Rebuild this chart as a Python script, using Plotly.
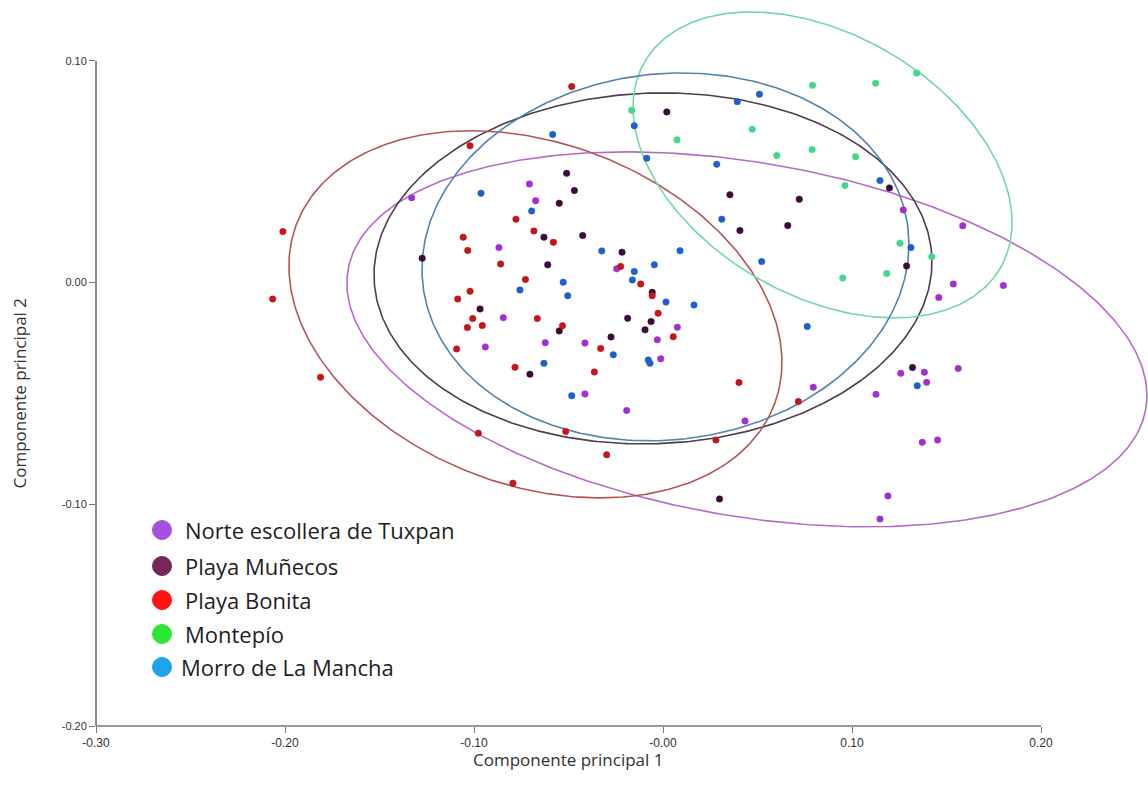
import numpy as np
import plotly.graph_objects as go

# ---------------- data ----------------
groups = ["Norte escollera de Tuxpan", "Playa Muñecos", "Playa Bonita", "Montepío", "Morro de La Mancha"]

norte_x = [-0.1330, -0.0707, -0.0674, -0.0868, -0.0845, -0.0940, -0.0623, -0.0245, 0.0076, -0.0030,
           -0.0012, -0.0413, -0.0192, -0.0413, 0.0795, 0.0434, 0.1271, 0.1586, 0.1536, 0.1801,
           0.1459, 0.1258, 0.1383, 0.1395, 0.1562, 0.1127, 0.1372, 0.1453, 0.1190, 0.1148]
norte_y = [0.0383, 0.0445, 0.0369, 0.0158, -0.0158, -0.0290, -0.0271, 0.0062, -0.0201, -0.0258,
           -0.0344, -0.0273, -0.0577, -0.0502, -0.0472, -0.0624, 0.0328, 0.0256, -0.0006, -0.0013,
           -0.0067, -0.0409, -0.0404, -0.0450, -0.0387, -0.0504, -0.0720, -0.0710, -0.0962, -0.1066]

munecos_x = [-0.1274, -0.0630, -0.0610, -0.0968, -0.0510, -0.0469, -0.0549, -0.0425, -0.0217, -0.0057,
             -0.0187, -0.0063, -0.0095, -0.0275, -0.0549, -0.0704, 0.0299, 0.0020, 0.0354, 0.0407,
             0.0721, 0.0660, 0.1198, 0.1289, 0.1320]
munecos_y = [0.0110, 0.0205, 0.0080, -0.0119, 0.0493, 0.0415, 0.0358, 0.0212, 0.0137, -0.0044,
             -0.0161, -0.0176, -0.0213, -0.0245, -0.0218, -0.0413, -0.0976, 0.0770, 0.0396, 0.0235,
             0.0376, 0.0257, 0.0427, 0.0075, -0.0383]

bonita_x = [-0.1021, -0.0483, -0.2011, -0.2065, -0.1812, -0.0778, -0.0683, -0.1057, -0.1033, -0.0859,
            -0.0728, -0.1021, -0.1086, -0.1007, -0.1035, -0.0956, -0.0665, -0.1092, -0.0580, -0.0224,
            -0.0118, -0.0057, -0.0026, 0.0054, -0.0330, -0.0532, -0.0783, -0.0363, -0.0977, -0.0515,
            -0.0298, -0.0794, 0.0402, 0.0716, 0.0280]
bonita_y = [0.0617, 0.0884, 0.0230, -0.0074, -0.0427, 0.0286, 0.0233, 0.0205, 0.0145, 0.0084,
            0.0014, -0.0039, -0.0074, -0.0162, -0.0203, -0.0194, -0.0162, -0.0299, 0.0182, 0.0073,
            -0.0006, -0.0059, -0.0138, -0.0244, -0.0297, -0.0195, -0.0382, -0.0403, -0.0679, -0.0672,
            -0.0777, -0.0905, -0.0451, -0.0536, -0.0710]

montepio_x = [-0.0166, 0.0074, 0.0472, 0.0791, 0.1125, 0.1342, 0.0602, 0.0789, 0.1019, 0.0963,
              0.1254, 0.1422, 0.1184, 0.0951]
montepio_y = [0.0777, 0.0644, 0.0692, 0.0890, 0.0899, 0.0945, 0.0573, 0.0600, 0.0568, 0.0438,
              0.0178, 0.0117, 0.0041, 0.0021]

morro_x = [-0.0963, -0.0695, -0.0757, -0.0584, -0.0086, 0.0284, -0.0152, 0.0393, 0.0510, 0.0311,
           -0.0324, -0.0152, -0.0162, -0.0046, 0.0090, 0.0016, 0.0164, -0.0528, -0.0504, -0.0263,
           -0.0078, -0.0069, -0.0630, -0.0483, 0.0522, 0.1148, 0.1312, 0.0763, 0.1345]
morro_y = [0.0403, 0.0323, -0.0033, 0.0668, 0.0561, 0.0534, 0.0707, 0.0816, 0.0850, 0.0286,
           0.0143, 0.0050, 0.0012, 0.0080, 0.0144, -0.0088, -0.0101, 0.0002, -0.0059, -0.0326,
           -0.0349, -0.0364, -0.0364, -0.0510, 0.0095, 0.0460, 0.0158, -0.0198, -0.0465]

# 95% ellipses: centre (data units), semi-axes (screen px) and screen tilt (deg, clockwise)
ell_cx = [0.0444, -0.0053, -0.0675, 0.0844, 0.0013]
ell_cy = [-0.0256, 0.0064, -0.0143, 0.0531, 0.0116]
ell_a = [404.9, 279.1, 255.4, 205.6, 244.2]
ell_b = [176.7, 175.3, 171.0, 130.6, 183.0]
ell_tilt = [9.9, -2.2, 20.6, 30.1, -6.7]

x_ticks = [-0.30, -0.20, -0.10, 0.00, 0.10, 0.20]
x_tick_labels = ["-0.30", "-0.20", "-0.10", "-0.00", "0.10", "0.20"]
y_ticks = [-0.20, -0.10, 0.00, 0.10]
y_tick_labels = ["-0.20", "-0.10", "0.00", "0.10"]

# ---------------- styles ----------------
point_colors = ["#a030d2", "#3d0c38", "#c3171c", "#3fd88c", "#1f60cc"]
ellipse_colors = ["#b86ac8", "#4d3d4d", "#b55656", "#72d9a5", "#5185b0"]
legend_colors = ["#a650e2", "#74285a", "#ff1414", "#2ee632", "#1ea4ea"]

W, H = 1148, 799
ML, MR, MT, MB = 96, 0, 8, 73
PW, PH = W - ML - MR, H - MT - MB
X_MIN, Y_MIN = -0.30, -0.20
SX, SY = 1890.0, 2217.0          # px per data unit
X_MAX = X_MIN + PW / SX
Y_MAX = Y_MIN + PH / SY

xs = [norte_x, munecos_x, bonita_x, montepio_x, morro_x]
ys = [norte_y, munecos_y, bonita_y, montepio_y, morro_y]

fig = go.Figure()

t = np.linspace(0, 2 * np.pi, 400)
for i in range(len(groups)):
    th = np.radians(ell_tilt[i])
    ux = ell_a[i] * np.cos(th) * np.cos(t) - ell_b[i] * np.sin(th) * np.sin(t)
    uy = ell_a[i] * np.sin(th) * np.cos(t) + ell_b[i] * np.cos(th) * np.sin(t)
    fig.add_trace(go.Scatter(
        x=ell_cx[i] + ux / SX, y=ell_cy[i] - uy / SY, mode="lines",
        line=dict(color=ellipse_colors[i], width=1.6), showlegend=False, hoverinfo="skip"))

for i in range(len(groups)):
    fig.add_trace(go.Scatter(
        x=xs[i], y=ys[i], mode="markers", name=groups[i], showlegend=False,
        marker=dict(size=6.5, color=point_colors[i],
                    line=dict(width=0.5, color=point_colors[i])),
        cliponaxis=False))

axis_col = "#777777"
# axis lines only over the tick span
fig.add_shape(type="line", xref="x", yref="paper", x0=-0.30, x1=0.20, y0=0, y1=0,
              line=dict(color=axis_col, width=1.7))
fig.add_shape(type="line", xref="paper", yref="y", x0=0, x1=0, y0=-0.20, y1=0.10,
              line=dict(color=axis_col, width=1.7))


def px2paper(px, py):
    return (px - ML) / PW, (H - MB - py) / PH


# legend (drawn manually)
leg_x = 162
leg_y = [530, 566, 600, 634, 667]
leg_tx = [183, 183, 183, 183, 179]
for i in range(len(groups)):
    cx, cy = px2paper(leg_x, leg_y[i])
    r = 9.5
    fig.add_shape(type="circle", xref="paper", yref="paper",
                  x0=cx - r / PW, x1=cx + r / PW, y0=cy - r / PH, y1=cy + r / PH,
                  fillcolor=legend_colors[i], line=dict(color=legend_colors[i], width=1))
    tx, ty = px2paper(leg_tx[i], leg_y[i])
    fig.add_annotation(x=tx, y=ty, xref="paper", yref="paper", text=groups[i],
                       showarrow=False, xanchor="left", yanchor="middle",
                       font=dict(family="Open Sans", size=22, color="#1e1e1e"))

# axis titles
fig.add_annotation(x=-0.05, xref="x", y=px2paper(0, 759)[1], yref="paper",
                   text="Componente principal 1", showarrow=False,
                   font=dict(family="Open Sans", size=17, color="#333333"),
                   xanchor="center", yanchor="middle")
fig.add_annotation(x=px2paper(19, 0)[0], xref="paper", y=-0.05, yref="y",
                   text="Componente principal 2", showarrow=False, textangle=-90,
                   font=dict(family="Open Sans", size=17, color="#333333"),
                   xanchor="center", yanchor="middle")

fig.update_layout(
    width=W, height=H, margin=dict(l=ML, r=MR, t=MT, b=MB),
    paper_bgcolor="white", plot_bgcolor="white", showlegend=False,
    xaxis=dict(range=[X_MIN, X_MAX], showgrid=False, zeroline=False, showline=False,
               tickmode="array", tickvals=x_ticks, ticktext=x_tick_labels,
               ticks="outside", ticklen=6, tickwidth=1.2, tickcolor=axis_col,
               tickfont=dict(family="Liberation Sans Narrow, Liberation Sans", size=12, color="#333333")),
    yaxis=dict(range=[Y_MIN, Y_MAX], showgrid=False, zeroline=False, showline=False,
               tickmode="array", tickvals=y_ticks, ticktext=y_tick_labels,
               ticks="outside", ticklen=6, tickwidth=1.2, tickcolor=axis_col,
               tickfont=dict(family="Liberation Sans", size=11, color="#333333")),
)

fig.write_html("out.html")
